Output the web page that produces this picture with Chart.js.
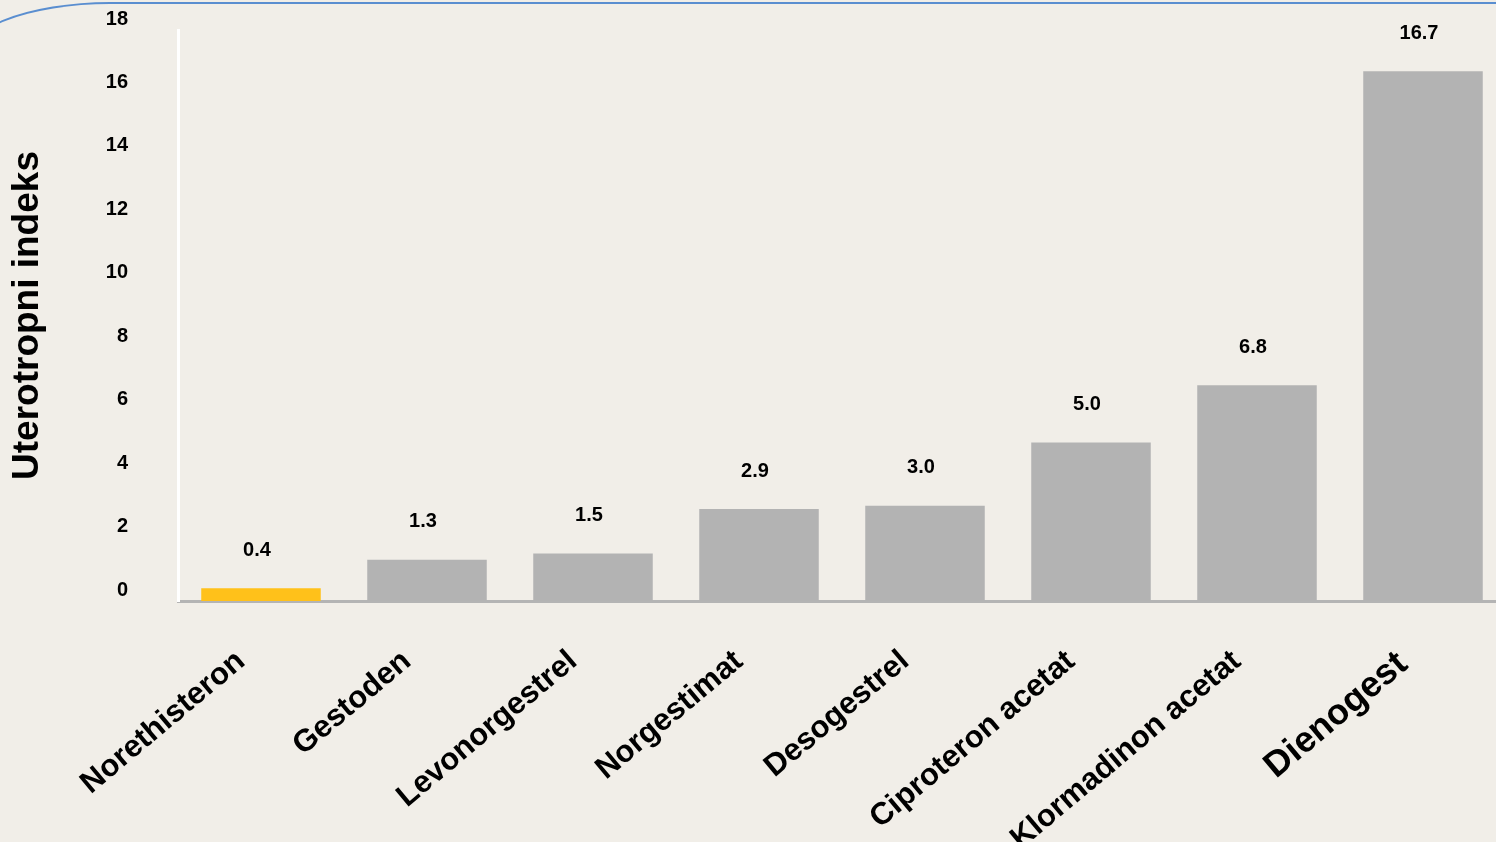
<!DOCTYPE html>
<html>
<head>
<meta charset="utf-8">
<script src="https://cdn.jsdelivr.net/npm/chart.js@4.4.0/dist/chart.umd.min.js"></script>
<style>
    html, body { margin: 0; padding: 0; background: #f1eee8; overflow: hidden; }
    #wrap { position: relative; width: 1506px; height: 842px; }
    #frame {
        position: absolute; left: -40px; top: 2px; width: 2000px; height: 300px;
        border-top: 2px solid #5a8ed0; border-left: 2px solid #5a8ed0;
        border-top-left-radius: 150px 60px; pointer-events: none;
    }
</style>
</head>
<body>
<div id="wrap">
    <div id="frame"></div>
    <canvas id="uterotropic-chart" width="1506" height="842"></canvas>
</div>
<script>
const categories = ["Norethisteron", "Gestoden", "Levonorgestrel", "Norgestimat", "Desogestrel", "Ciproteron acetat", "Klormadinon acetat", "Dienogest"];
const indexValues = [0.4, 1.3, 1.5, 2.9, 3.0, 5.0, 6.8, 16.7];
const barColors = ["#ffc11a", "#b3b3b3", "#b3b3b3", "#b3b3b3", "#b3b3b3", "#b3b3b3", "#b3b3b3", "#b3b3b3"];

Chart.defaults.font.family = "'Liberation Sans', Arial, sans-serif";
Chart.defaults.color = '#000';

// value labels above each bar
const valueLabels = {
    id: 'valueLabels',
    afterDatasetsDraw(chart) {
        const ctx = chart.ctx;
        const meta = chart.getDatasetMeta(0);
        ctx.save();
        ctx.font = "bold 20px 'Liberation Sans', Arial, sans-serif";
        ctx.fillStyle = '#000';
        ctx.textAlign = 'center';
        ctx.textBaseline = 'middle';
        meta.data.forEach(function(bar, i) {
            ctx.fillText(indexValues[i].toFixed(1), bar.x - 4, bar.y - 38);
        });
        ctx.restore();
    }
};

new Chart(
    document.getElementById('uterotropic-chart'),
    {
        type: 'bar',
        data: {
            labels: categories,
            datasets: [{
                data: indexValues,
                backgroundColor: barColors,
                barPercentage: 0.72,
                categoryPercentage: 1.0
            }]
        },
        options: {
            responsive: false,
            animation: false,
            layout: { padding: { top: 30, right: 0, bottom: 0, left: 0 } },
            plugins: {
                legend: { display: false },
                tooltip: { enabled: false }
            },
            scales: {
                x: {
                    grid: { display: false, drawTicks: false },
                    border: { display: true, color: '#b4b4b4', width: 3 },
                    ticks: {
                        minRotation: 40,
                        maxRotation: 40,
                        padding: 42,
                        labelOffset: -20,
                        color: '#000',
                        font: function(context) {
                            return { size: context.index === 7 ? 36 : 31, weight: 'bold' };
                        }
                    },
                    afterFit: function(scale) {
                        scale.height = 241;
                        scale.paddingTop = 0;
                        scale.paddingLeft = 0;
                        scale.paddingRight = 0;
                    }
                },
                y: {
                    min: 0,
                    max: 18,
                    grid: { display: false, drawTicks: false },
                    border: { display: true, color: '#ffffff', width: 3 },
                    ticks: {
                        stepSize: 2,
                        padding: 50,
                        labelOffset: -11,
                        color: '#000',
                        font: { size: 20, weight: 'bold' }
                    },
                    title: {
                        display: true,
                        text: 'Uterotropni indeks',
                        color: '#000',
                        font: { size: 37, weight: 'bold' },
                        padding: { top: 6, bottom: 0 }
                    },
                    afterFit: function(scale) {
                        scale.width = 178;
                        scale.paddingTop = 0;
                        scale.paddingBottom = 0;
                    }
                }
            }
        },
        plugins: [valueLabels]
    }
);
</script>
</body>
</html>
